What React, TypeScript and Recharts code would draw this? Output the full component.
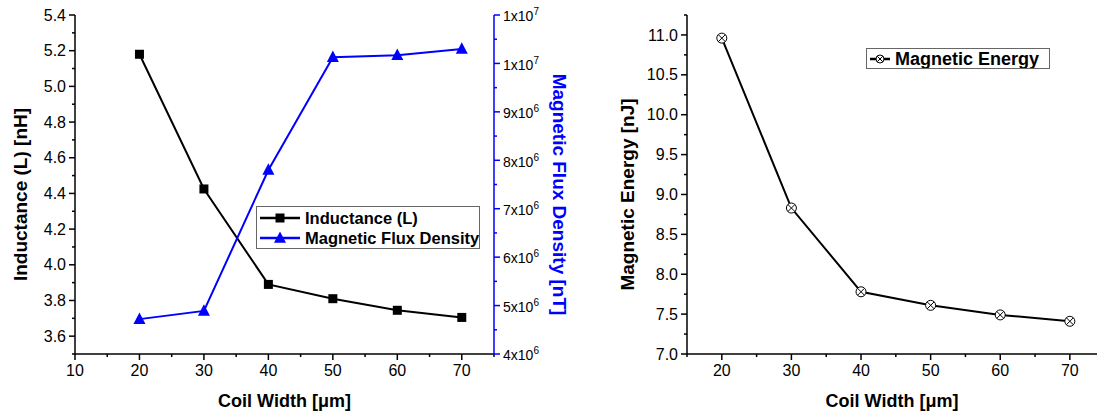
import React from "react";
import { LineChart, Line, XAxis, YAxis, Legend, Label } from "recharts";

// values
const coilWidth = [20, 30, 40, 50, 60, 70];
const inductance = [5.18, 4.425, 3.89, 3.81, 3.745, 3.705];
const fluxDensity = [4.72e6, 4.89e6, 7.8e6, 1.013e7, 1.017e7, 1.03e7];
const magneticEnergy = [10.96, 8.83, 7.78, 7.61, 7.49, 7.41];

// ticks
const leftXMajor = [10, 20, 30, 40, 50, 60, 70];
const leftXMinor = [15, 25, 35, 45, 55, 65, 75];
const inductanceMajor = [3.6, 3.8, 4.0, 4.2, 4.4, 4.6, 4.8, 5.0, 5.2, 5.4];
const inductanceMinor = [3.5, 3.7, 3.9, 4.1, 4.3, 4.5, 4.7, 4.9, 5.1, 5.3];
const fluxMajor = [4e6, 5e6, 6e6, 7e6, 8e6, 9e6, 1e7, 1.1e7];
const fluxMinor = [4.5e6, 5.5e6, 6.5e6, 7.5e6, 8.5e6, 9.5e6, 1.05e7];
const rightXMajor = [20, 30, 40, 50, 60, 70];
const rightXMinor = [15, 25, 35, 45, 55, 65];
const energyMajor = [7.0, 7.5, 8.0, 8.5, 9.0, 9.5, 10.0, 10.5, 11.0];
const energyMinor = [7.25, 7.75, 8.25, 8.75, 9.25, 9.75, 10.25, 10.75, 11.25];

const FONT = "'Liberation Sans', Arial, sans-serif";
const BLUE = "#0000ff";

const leftData = coilWidth.map((w, i) => ({ w, L: inductance[i], B: fluxDensity[i] }));
const rightData = coilWidth.map((w, i) => ({ w, E: magneticEnergy[i] }));

const isIn = (arr: number[], v: number) => arr.some((m) => Math.abs(m - v) < 1e-6 * Math.max(1, Math.abs(m)));

const sci = (v: number) => {
    const exp = Math.floor(Math.log10(v));
    const man = Math.round(v / Math.pow(10, exp));
    return (
        <>
            {man}x10<tspan dy={-6} fontSize={10}>{exp}</tspan>
        </>
    );
};

// tick with major/minor length, drawn from the axis line
const makeTick = (side: string, majors: number[], fmt: (v: number) => any, stroke: string, fontSize: number) =>
    (p: any) => {
        const { x, y, payload, index } = p;
        const v = payload.value;
        const major = isIn(majors, v);
        const len = major ? 6 : 3;
        if (side === "left") {
            return (
                <g key={index}>
                    <line x1={x} y1={y} x2={x - len} y2={y} stroke={stroke} strokeWidth={1.5} />
                    {major && (
                        <text x={x - 9} y={y} dy="0.35em" textAnchor="end" fontSize={fontSize} fill="#000" fontFamily={FONT}>
                            {fmt(v)}
                        </text>
                    )}
                </g>
            );
        }
        if (side === "right") {
            return (
                <g key={index}>
                    <line x1={x} y1={y} x2={x + len} y2={y} stroke={stroke} strokeWidth={1.5} />
                    {major && (
                        <text x={x + 9} y={y} dy="0.45em" textAnchor="start" fontSize={fontSize} fill="#000" fontFamily={FONT}>
                            {fmt(v)}
                        </text>
                    )}
                </g>
            );
        }
        return (
            <g key={index}>
                <line x1={x} y1={y} x2={x} y2={y + len} stroke={stroke} strokeWidth={1.5} />
                {major && (
                    <text x={x} y={y + 11} dy="0.71em" textAnchor="middle" fontSize={fontSize} fill="#000" fontFamily={FONT}>
                        {fmt(v)}
                    </text>
                )}
            </g>
        );
    };

const Square = ({ cx, cy, size = 9 }: any) => (
    <rect x={cx - size / 2} y={cy - size / 2} width={size} height={size} fill="#000" />
);
const Triangle = ({ cx, cy, size = 12 }: any) => (
    <polygon
        points={`${cx},${cy - size * 0.55} ${cx - size / 2},${cy + size * 0.4} ${cx + size / 2},${cy + size * 0.4}`}
        fill={BLUE}
    />
);
const CircleX = ({ cx, cy, r = 5 }: any) => (
    <g>
        <circle cx={cx} cy={cy} r={r} fill="#fff" stroke="#000" strokeWidth={1} />
        <line x1={cx - r * 0.7} y1={cy - r * 0.7} x2={cx + r * 0.7} y2={cy + r * 0.7} stroke="#000" strokeWidth={1} />
        <line x1={cx - r * 0.7} y1={cy + r * 0.7} x2={cx + r * 0.7} y2={cy - r * 0.7} stroke="#000" strokeWidth={1} />
    </g>
);

const markerFor = (key: string, cx: number, cy: number) => {
    if (key === "L") return <Square cx={cx} cy={cy} />;
    if (key === "B") return <Triangle cx={cx} cy={cy} />;
    return <CircleX cx={cx} cy={cy} r={4} />;
};

const renderLegend = (payload: any[], w: number, rowH: number, lineLen: number, fontSize: number) => {
    const h = payload.length * rowH + 3;
    return (
        <div style={{ border: "1px solid #666", background: "#fff", width: w, height: h, boxSizing: "border-box" }}>
            <svg width={w - 2} height={h - 2} style={{ display: "block" }}>
                {payload.map((item: any, i: number) => {
                    const cy = rowH / 2 + 1 + i * rowH;
                    return (
                        <g key={item.dataKey}>
                            <line x1={3} y1={cy} x2={3 + lineLen} y2={cy} stroke={item.color} strokeWidth={2.5} />
                            {markerFor(item.dataKey, 3 + lineLen / 2, cy)}
                            <text x={lineLen + 8} y={cy} dy="0.36em" fontSize={fontSize} fontWeight="bold" fontFamily={FONT} fill="#000">
                                {item.value}
                            </text>
                        </g>
                    );
                })}
            </svg>
        </div>
    );
};

const yTitle = (value: string, dx: number, rotate: number, color: string) => (props: any) => {
    const vb = props.viewBox;
    const cx = vb.x + dx;
    const cy = vb.y + vb.height / 2 + 10;
    return (
        <text
            x={cx}
            y={cy}
            transform={`rotate(${rotate}, ${cx}, ${cy})`}
            textAnchor="middle"
            dy="0.35em"
            fontSize={19}
            fontWeight="bold"
            fontFamily={FONT}
            fill={color}
        >
            {value}
        </text>
    );
};

const xTitle = (value: string) => (props: any) => {
    const vb = props.viewBox;
    return (
        <text x={vb.x + vb.width / 2} y={vb.y + vb.height - 9} textAnchor="middle" fontSize={18} fontWeight="bold" fontFamily={FONT} fill="#000">
            {value}
        </text>
    );
};

const axisLine = { stroke: "#000", strokeWidth: 1.5 };

export default function App() {
    return (
        <div style={{ position: "absolute", left: 0, top: 0, width: 1098, height: 416, background: "#fff", fontFamily: FONT, overflow: "hidden" }}>
            <div style={{ position: "absolute", left: 0, top: 0 }}>
                <LineChart width={600} height={416} data={leftData} margin={{ top: 15, right: 0, left: 0, bottom: 0 }}>
                    <XAxis
                        dataKey="w"
                        type="number"
                        domain={[10, 75]}
                        ticks={[...leftXMajor, ...leftXMinor].sort((a, b) => a - b)}
                        interval={0}
                        height={62}
                        tickSize={0}
                        tickMargin={0}
                        tickLine={false}
                        axisLine={axisLine}
                        tick={makeTick("bottom", leftXMajor, (v) => String(v), "#000", 16)}
                        allowDataOverflow
                    >
                        <Label content={xTitle("Coil Width [μm]")} />
                    </XAxis>
                    <XAxis xAxisId="top" orientation="top" dataKey="w" type="number" domain={[10, 75]} height={0} tick={false} tickLine={false} axisLine={axisLine} />
                    <YAxis
                        yAxisId="L"
                        orientation="left"
                        width={75}
                        type="number"
                        domain={[3.5, 5.4]}
                        ticks={[...inductanceMajor, ...inductanceMinor].sort((a, b) => a - b)}
                        interval={0}
                        tickSize={0}
                        tickMargin={0}
                        tickLine={false}
                        axisLine={axisLine}
                        tick={makeTick("left", inductanceMajor, (v) => v.toFixed(1), "#000", 16)}
                        allowDataOverflow
                    >
                        <Label content={yTitle("Inductance (L) [nH]", 20, -90, "#000")} />
                    </YAxis>
                    <YAxis
                        yAxisId="B"
                        orientation="right"
                        width={106}
                        type="number"
                        domain={[4e6, 1.1e7]}
                        ticks={[...fluxMajor, ...fluxMinor].sort((a, b) => a - b)}
                        interval={0}
                        tickSize={0}
                        tickMargin={0}
                        tickLine={false}
                        axisLine={{ stroke: BLUE, strokeWidth: 1.5 }}
                        tick={makeTick("right", fluxMajor, sci, BLUE, 14)}
                        allowDataOverflow
                    >
                        <Label content={yTitle("Magnetic Flux Density [nT]", 66, 90, BLUE)} />
                    </YAxis>
                    <Legend
                        layout="horizontal"
                        verticalAlign="middle"
                        align="center"
                        wrapperStyle={{ left: 256, top: 206, width: "auto" }}
                        content={(p: any) => renderLegend(p.payload || [], 224, 20, 40, 16.5)}
                    />
                    <Line
                        yAxisId="L"
                        dataKey="L"
                        name="Inductance (L)"
                        type="linear"
                        stroke="#000"
                        strokeWidth={2}
                        dot={(p: any) => <Square key={p.index} cx={p.cx} cy={p.cy} />}
                        isAnimationActive={false}
                    />
                    <Line
                        yAxisId="B"
                        dataKey="B"
                        name="Magnetic Flux Density"
                        type="linear"
                        stroke={BLUE}
                        strokeWidth={2}
                        dot={(p: any) => <Triangle key={p.index} cx={p.cx} cy={p.cy} />}
                        isAnimationActive={false}
                    />
                </LineChart>
            </div>
            <div style={{ position: "absolute", left: 600, top: 0 }}>
                <LineChart width={498} height={416} data={rightData} margin={{ top: 15, right: 1, left: 0, bottom: 0 }}>
                    <XAxis
                        dataKey="w"
                        type="number"
                        domain={[15, 73.9]}
                        ticks={[...rightXMajor, ...rightXMinor].sort((a, b) => a - b)}
                        interval={0}
                        height={62}
                        tickSize={0}
                        tickMargin={0}
                        tickLine={false}
                        axisLine={axisLine}
                        tick={makeTick("bottom", rightXMajor, (v) => String(v), "#000", 16)}
                        allowDataOverflow
                    >
                        <Label content={xTitle("Coil Width [μm]")} />
                    </XAxis>
                    <XAxis xAxisId="top" orientation="top" dataKey="w" type="number" domain={[15, 73.9]} height={0} tick={false} tickLine={false} axisLine={axisLine} />
                    <YAxis
                        width={87}
                        type="number"
                        domain={[7, 11.25]}
                        ticks={[...energyMajor, ...energyMinor].sort((a, b) => a - b)}
                        interval={0}
                        tickSize={0}
                        tickMargin={0}
                        tickLine={false}
                        axisLine={axisLine}
                        tick={makeTick("left", energyMajor, (v) => v.toFixed(1), "#000", 16)}
                        allowDataOverflow
                    >
                        <Label content={yTitle("Magnetic Energy [nJ]", 27, -90, "#000")} />
                    </YAxis>
                    <Legend
                        layout="horizontal"
                        verticalAlign="middle"
                        align="center"
                        wrapperStyle={{ left: 266, top: 48, width: "auto" }}
                        content={(p: any) => renderLegend(p.payload || [], 184, 18, 20, 18)}
                    />
                    <Line
                        dataKey="E"
                        name="Magnetic Energy"
                        type="linear"
                        stroke="#000"
                        strokeWidth={2}
                        dot={(p: any) => <CircleX key={p.index} cx={p.cx} cy={p.cy} />}
                        isAnimationActive={false}
                    />
                </LineChart>
            </div>
        </div>
    );
}
